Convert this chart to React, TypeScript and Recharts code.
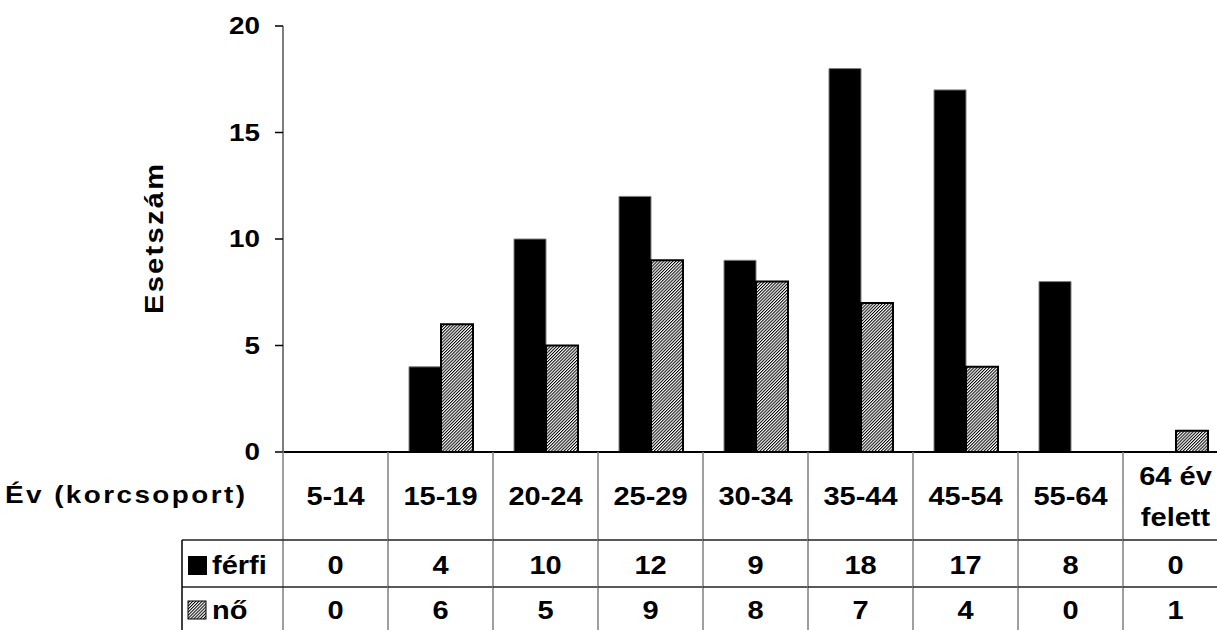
import React from "react"
import { BarChart, Bar, XAxis, YAxis } from "recharts"

// age groups and case counts
const categories = ["5-14", "15-19", "20-24", "25-29", "30-34", "35-44", "45-54", "55-64", "64 év\nfelett"]
const ferfi = [0, 4, 10, 12, 9, 18, 17, 8, 0]
const no = [0, 6, 5, 9, 8, 7, 4, 0, 1]
const yTicks = [0, 5, 10, 15, 20]

const data = categories.map((c, i) => ({ name: c, ferfi: ferfi[i], no: no[i] }))

// layout
const CHART_W = 1240
const CHART_H = 640
const PLOT_LEFT = 283
const PLOT_TOP = 26
const PLOT_BOTTOM = 452
const PLOT_W = 945
const BAND = PLOT_W / categories.length
const ROW1 = 540
const ROW2 = 587
const LEGEND_LEFT = 182

const FONT = "'Liberation Sans', Arial, sans-serif"
const GRID_GRAY = "#7f7f7f"
const SX = 1.16 // the original text is drawn a bit wide

// bold text, stretched horizontally around its anchor point
function SText({ x, y, anchor = "middle", size = 25, rotate = 0, length, children }: any) {
  return (
    <text
      transform={`translate(${x} ${y}) rotate(${rotate}) scale(${SX} 1)`}
      x={0}
      y={0}
      textAnchor={anchor}
      dominantBaseline="central"
      fontFamily={FONT}
      fontWeight={700}
      fontSize={size}
      fill="#000"
      textLength={length ? length / SX : undefined}
    >
      {children}
    </text>
  )
}

function TableTick(props: any) {
  const { x, index } = props
  const left = x - BAND / 2
  const right = x + BAND / 2
  const lines = String(categories[index]).split("\n")
  const last = index === categories.length - 1
  return (
    <g>
      <line x1={left} y1={PLOT_BOTTOM} x2={left} y2={CHART_H} stroke={GRID_GRAY} strokeWidth={1.5} />
      {last && <line x1={right} y1={PLOT_BOTTOM} x2={right} y2={CHART_H} stroke={GRID_GRAY} strokeWidth={1.5} />}
      <line x1={left} y1={ROW1} x2={right} y2={ROW1} stroke="#222" strokeWidth={1.5} />
      <line x1={left} y1={ROW2} x2={right} y2={ROW2} stroke="#222" strokeWidth={1.5} />
      {lines.map((l, i) => (
        <SText key={i} x={x} y={lines.length === 1 ? 496 : 476 + i * 41}>
          {l}
        </SText>
      ))}
      <SText x={x} y={565}>{ferfi[index]}</SText>
      <SText x={x} y={610}>{no[index]}</SText>

      {index === 0 && (
        <g>
          <SText x={5} y={495} anchor="start" size={24} length={240}>
            Év (korcsoport)
          </SText>
          <line x1={LEGEND_LEFT} y1={ROW1} x2={left} y2={ROW1} stroke="#222" strokeWidth={1.5} />
          <line x1={LEGEND_LEFT} y1={ROW2} x2={left} y2={ROW2} stroke="#222" strokeWidth={1.5} />
          <line x1={LEGEND_LEFT} y1={ROW1} x2={LEGEND_LEFT} y2={CHART_H} stroke="#000" strokeWidth={1.5} />
          <rect x={188} y={556} width={19} height={19} fill="#000" />
          <SText x={212} y={565} anchor="start">férfi</SText>
          <rect x={188} y={601} width={18} height={18} fill="url(#hatch)" stroke="#000" strokeWidth={1} />
          <SText x={212} y={610} anchor="start">nő</SText>
        </g>
      )}
    </g>
  )
}

function YTick(props: any) {
  const { x, y, payload } = props
  return (
    <SText x={x} y={y} anchor="end" size={24}>
      {payload.value}
    </SText>
  )
}

function YLabel(props: any) {
  const { viewBox } = props
  return (
    <SText x={154} y={viewBox.y + viewBox.height / 2} rotate={-90} size={25} length={150}>
      Esetszám
    </SText>
  )
}

export default function App() {
  return (
    <div style={{ position: "absolute", left: 0, top: 0, width: 1217, height: 630, overflow: "hidden", background: "#fff" }}>
      <BarChart
        width={CHART_W}
        height={CHART_H}
        data={data}
        margin={{ top: PLOT_TOP, right: CHART_W - PLOT_LEFT - PLOT_W, left: 0, bottom: 0 }}
        barCategoryGap="20%"
        barGap={0}
      >
        <defs>
          <pattern id="hatch" width={2.2} height={2.2} patternUnits="userSpaceOnUse" patternTransform="rotate(45)">
            <rect width={2.2} height={2.2} fill="#fff" />
            <rect width={1} height={2.2} fill="#000" />
          </pattern>
        </defs>
        <XAxis
          dataKey="name"
          interval={0}
          height={CHART_H - PLOT_BOTTOM}
          axisLine={{ stroke: "#000", strokeWidth: 2 }}
          tickLine={false}
          tick={<TableTick />}
        />
        <YAxis
          width={PLOT_LEFT}
          domain={[0, 20]}
          ticks={yTicks}
          interval={0}
          axisLine={{ stroke: GRID_GRAY, strokeWidth: 2 }}
          tickLine={{ stroke: "#000", strokeWidth: 1.5 }}
          tickSize={8}
          tickMargin={15}
          tick={<YTick />}
          label={<YLabel />}
        />
        <Bar dataKey="ferfi" fill="#000" stroke={GRID_GRAY} strokeWidth={1} isAnimationActive={false} />
        <Bar dataKey="no" fill="url(#hatch)" stroke="#000" strokeWidth={2} isAnimationActive={false} />
      </BarChart>
    </div>
  )
}
